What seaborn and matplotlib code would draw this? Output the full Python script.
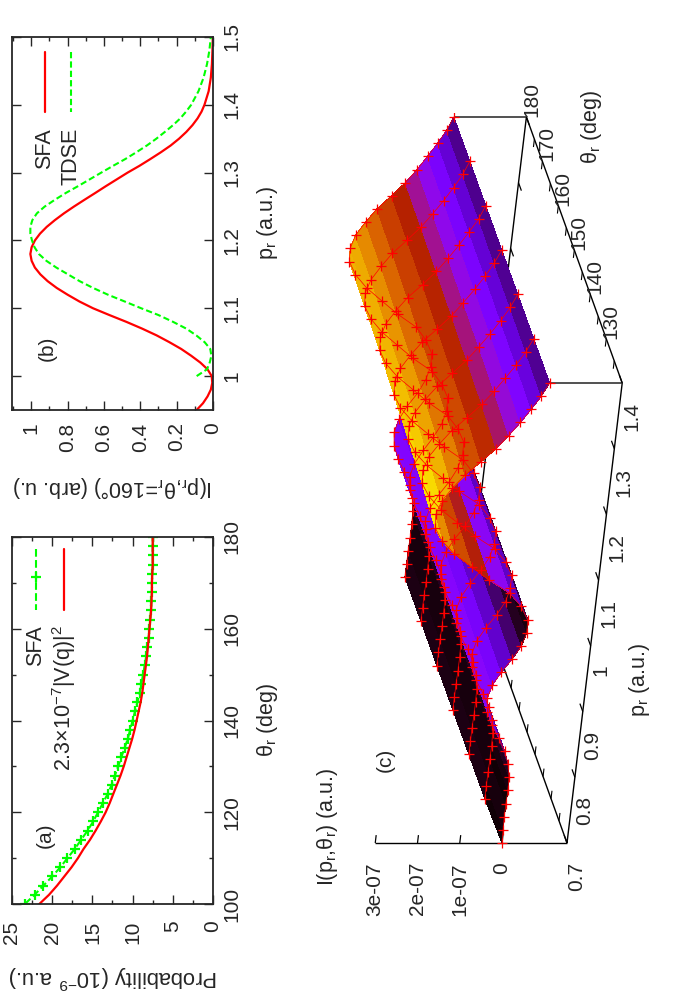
import numpy as np
import seaborn as sns
import matplotlib
matplotlib.use("Agg")
import matplotlib.pyplot as plt
from matplotlib.ticker import MultipleLocator, FixedLocator
from mpl_toolkits.mplot3d import proj3d

sns.set_style("ticks")
plt.rcParams['font.family'] = ['Liberation Sans', 'DejaVu Sans']
plt.rcParams['mathtext.default'] = 'regular'
plt.rcParams['axes.linewidth'] = 1.3

RED = '#ff0000'
GREEN = '#00ff00'

# panel (a)
theta_a = [100, 102, 104, 106, 108, 110, 112, 114, 116, 118, 120, 122, 124, 126, 128, 130, 132, 134, 136, 138, 140,
           142, 144, 146, 148, 150, 152, 154, 156, 158, 160, 162, 164, 166, 168, 170, 172, 174, 176, 178, 180]
sfa_a = [23.4, 22.2, 21.1, 20.0, 19.0, 18.1, 17.2, 16.4, 15.6, 14.9, 14.3, 13.7, 13.1, 12.6, 12.2, 11.8, 11.4, 11.0,
         10.6, 10.3, 10.0, 9.7, 9.4, 9.1, 8.9, 8.7, 8.5, 8.3, 8.15, 8.0, 7.9, 7.8, 7.7, 7.65, 7.6, 7.6, 7.55, 7.5,
         7.5, 7.5, 7.5]
vq_a = [21.6, 20.4, 19.4, 18.5, 17.6, 16.8, 16.1, 15.3, 14.6, 13.95, 13.35, 12.85, 12.4, 11.95, 11.5, 11.1, 10.75,
        10.4, 10.05, 9.75, 9.5, 9.25, 9.0, 8.8, 8.65, 8.5, 8.35, 8.2, 8.1, 8.0, 7.9, 7.8, 7.7, 7.65, 7.6, 7.6, 7.55,
        7.5, 7.5, 7.5, 7.5]

# panel (b)
p_sfa = [0.95, 0.96, 0.97, 0.98, 0.99, 1.00, 1.01, 1.02, 1.03, 1.04, 1.05, 1.06, 1.07, 1.08, 1.09, 1.10, 1.11, 1.12,
         1.13, 1.14, 1.15, 1.16, 1.17, 1.18, 1.19, 1.20, 1.21, 1.22, 1.23, 1.24, 1.25, 1.26, 1.27, 1.28, 1.29, 1.30,
         1.31, 1.32, 1.33, 1.34, 1.35, 1.36, 1.37, 1.38, 1.39, 1.40, 1.42, 1.44, 1.46, 1.48, 1.50]
sfa_b = [0.09, 0.055, 0.03, 0.012, 0.004, 0.007, 0.03, 0.07, 0.12, 0.175, 0.24, 0.31, 0.39, 0.477, 0.57, 0.66,
         0.735, 0.80, 0.86, 0.91, 0.95, 0.98, 0.998, 1.005, 0.998, 0.98, 0.952, 0.915, 0.87, 0.82, 0.765, 0.707,
         0.648, 0.59, 0.53, 0.47, 0.405, 0.345, 0.287, 0.233, 0.187, 0.147, 0.113, 0.085, 0.063, 0.047, 0.024, 0.012,
         0.006, 0.003, 0.001]
p_tdse = [1.00, 1.01, 1.02, 1.03, 1.04, 1.05, 1.06, 1.07, 1.08, 1.09, 1.10, 1.11, 1.12, 1.13, 1.14, 1.15, 1.16, 1.17,
          1.18, 1.19, 1.20, 1.21, 1.22, 1.23, 1.24, 1.25, 1.26, 1.27, 1.28, 1.29, 1.30, 1.31, 1.32, 1.33, 1.34, 1.35,
          1.36, 1.37, 1.38, 1.39, 1.40, 1.42, 1.44, 1.46, 1.48, 1.50]
tdse_b = [0.09, 0.033, 0.018, 0.009, 0.015, 0.046, 0.092, 0.147, 0.22, 0.30, 0.395, 0.486, 0.578, 0.66, 0.734, 0.798,
          0.862, 0.917, 0.958, 0.982, 0.996, 1.005, 1.005, 0.994, 0.969, 0.926, 0.87, 0.81, 0.743, 0.679, 0.615, 0.55,
          0.483, 0.422, 0.364, 0.312, 0.265, 0.22, 0.18, 0.148, 0.12, 0.08, 0.052, 0.033, 0.02, 0.012]

# panel (c), I in units of 1e-7
p_c = [0.70, 0.72, 0.74, 0.76, 0.78, 0.80, 0.82, 0.84, 0.86, 0.88, 0.90, 0.92, 0.94, 0.96, 0.98, 1.00, 1.02, 1.04,
       1.06, 1.08, 1.10, 1.12, 1.14, 1.16, 1.18, 1.20, 1.22, 1.24, 1.26, 1.28, 1.30, 1.32, 1.34, 1.36, 1.38, 1.40]
theta_c = [120, 130, 140, 150, 160, 170, 180]
i_120 = [0.00, 0.01, 0.02, 0.02, 0.01, 0.02, 0.08, 0.20, 0.38, 0.58, 0.72, 0.76, 0.68, 0.50, 0.28, 0.10, 0.01, 0.03,
         0.22, 0.52, 1.05, 1.50, 1.95, 2.28, 2.48, 2.50, 2.40, 2.18, 1.92, 1.58, 1.26, 1.00, 0.76, 0.54, 0.34, 0.18]
i_130 = [0.03, 0.03, 0.03, 0.02, 0.02, 0.03, 0.08, 0.20, 0.37, 0.57, 0.71, 0.75, 0.67, 0.49, 0.27, 0.10, 0.02, 0.03,
         0.21, 0.50, 1.02, 1.46, 1.89, 2.21, 2.41, 2.43, 2.33, 2.11, 1.86, 1.53, 1.22, 0.97, 0.74, 0.52, 0.33, 0.18]
i_140 = [0.03, 0.03, 0.03, 0.02, 0.02, 0.03, 0.08, 0.19, 0.36, 0.56, 0.70, 0.74, 0.66, 0.48, 0.27, 0.10, 0.02, 0.03,
         0.21, 0.49, 1.00, 1.43, 1.85, 2.17, 2.36, 2.38, 2.28, 2.07, 1.82, 1.50, 1.20, 0.95, 0.72, 0.51, 0.32, 0.18]
i_150 = [0.03, 0.03, 0.03, 0.02, 0.02, 0.03, 0.08, 0.19, 0.36, 0.55, 0.69, 0.73, 0.65, 0.48, 0.26, 0.10, 0.02, 0.03,
         0.21, 0.49, 0.98, 1.40, 1.82, 2.13, 2.32, 2.34, 2.24, 2.04, 1.80, 1.48, 1.18, 0.94, 0.71, 0.50, 0.32, 0.18]
i_160 = [0.03, 0.03, 0.03, 0.02, 0.02, 0.03, 0.08, 0.19, 0.35, 0.54, 0.68, 0.72, 0.64, 0.47, 0.26, 0.10, 0.02, 0.03,
         0.20, 0.48, 0.97, 1.38, 1.79, 2.10, 2.28, 2.30, 2.21, 2.01, 1.77, 1.45, 1.16, 0.92, 0.70, 0.50, 0.31, 0.18]
i_170 = [0.03, 0.03, 0.03, 0.02, 0.02, 0.03, 0.08, 0.18, 0.35, 0.54, 0.67, 0.71, 0.63, 0.46, 0.26, 0.10, 0.02, 0.03,
         0.20, 0.47, 0.96, 1.37, 1.77, 2.07, 2.26, 2.28, 2.18, 1.98, 1.75, 1.44, 1.15, 0.91, 0.69, 0.49, 0.31, 0.18]
i_180 = [0.03, 0.03, 0.03, 0.02, 0.02, 0.03, 0.08, 0.18, 0.34, 0.53, 0.66, 0.70, 0.62, 0.46, 0.25, 0.10, 0.02, 0.03,
         0.20, 0.47, 0.95, 1.36, 1.76, 2.06, 2.24, 2.26, 2.17, 1.97, 1.74, 1.43, 1.14, 0.90, 0.69, 0.49, 0.31, 0.18]
i_rows = [i_120, i_130, i_140, i_150, i_160, i_170, i_180]

p_ticks = [0.7, 0.8, 0.9, 1.0, 1.1, 1.2, 1.3, 1.4]
p_labels = ['0.7', '0.8', '0.9', '1', '1.1', '1.2', '1.3', '1.4']
theta_ticks = [130, 140, 150, 160, 170, 180]
z_ticks = [0, 1, 2, 3]
z_labels = ['0', '1e-07', '2e-07', '3e-07']
z_base = -1.537

fig = plt.figure(figsize=(7, 10), dpi=100)


def text(x, y, s, rot=90, size=15, **kw):
    kw.setdefault('ha', 'center')
    kw.setdefault('va', 'center')
    fig.text(x / 700, 1 - y / 1000, s, rotation=rot, fontsize=size, **kw)


def frame(left, top, right, bottom):
    return fig.add_axes([left / 700, 1 - bottom / 1000, (right - left) / 700, (bottom - top) / 1000])


def style(ax, pad):
    ax.yaxis.tick_right()
    ax.tick_params(which='both', direction='in', top=True, bottom=True, left=True, right=True, width=1.0)
    ax.tick_params(which='major', length=6.5, labelsize=15)
    ax.tick_params(which='minor', length=3.2)
    ax.tick_params(axis='x', which='major', labelrotation=90, pad=pad)
    ax.tick_params(axis='y', which='major', labelrotation=90, pad=7)
    for lab in ax.get_yticklabels():
        lab.set_va('center')
    ax.set_xlabel('')
    ax.set_ylabel('')


# panel (a): value runs to the left, angle runs upwards
ax_a = frame(12, 537, 213, 904)
sns.lineplot(x=sfa_a, y=theta_a, orient='y', ax=ax_a, color=GREEN, marker='+', markersize=7.5, markeredgewidth=1.6,
             markeredgecolor=GREEN, linewidth=1.5, linestyle='--', errorbar=None)
sns.lineplot(x=vq_a, y=theta_a, orient='y', ax=ax_a, color=RED, linewidth=1.6, errorbar=None)
ax_a.set_xlim(25, 0)
ax_a.set_ylim(100, 180)
ax_a.xaxis.set_major_locator(MultipleLocator(5))
ax_a.xaxis.set_minor_locator(MultipleLocator(2.5))
ax_a.yaxis.set_major_locator(MultipleLocator(20))
ax_a.yaxis.set_minor_locator(MultipleLocator(10))
style(ax_a, 12)
# legend keys
ax_a.plot([0.12, 0.12], [0.966, 0.80], color=GREEN, lw=1.5, ls='--', transform=ax_a.transAxes)
ax_a.plot([0.12], [0.89], color=GREEN, marker='+', ms=7.5, mew=1.6, transform=ax_a.transAxes)
ax_a.plot([0.26, 0.26], [0.966, 0.80], color=RED, lw=1.6, transform=ax_a.transAxes)
text(36, 625, 'SFA', va='top', size=15.5)
text(64, 625, '2.3×10$^{-7}$|V(q)|$^2$', va='top', size=15.5)
text(45, 835, '(a)')
text(113, 977, 'Probability (10$^{-9}$ a.u.)', rot=180, size=15.8)
text(268, 720, 'θ$_r$ (deg)', size=15.5)

# panel (b)
ax_b = frame(12, 37, 213, 410)
sns.lineplot(x=sfa_b, y=p_sfa, orient='y', ax=ax_b, color=RED, linewidth=1.6, errorbar=None)
sns.lineplot(x=tdse_b, y=p_tdse, orient='y', ax=ax_b, color=GREEN, linewidth=1.5, errorbar=None)
ax_b.lines[-1].set_dashes((3, 1.5))
ax_b.set_xlim(1.106, 0)
ax_b.set_ylim(0.95, 1.5)
ax_b.xaxis.set_major_locator(MultipleLocator(0.2))
ax_b.xaxis.set_minor_locator(MultipleLocator(0.1))
ax_b.yaxis.set_major_locator(FixedLocator([1.0, 1.1, 1.2, 1.3, 1.4, 1.5]))
ax_b.xaxis.set_major_formatter(lambda v, pos: f'{v:g}')
ax_b.yaxis.set_major_formatter(lambda v, pos: f'{v:g}')
style(ax_b, 9)
ax_b.plot([0.164, 0.164], [0.96, 0.80], color=RED, lw=1.6, transform=ax_b.transAxes)
key, = ax_b.plot([0.294, 0.294], [0.96, 0.80], color=GREEN, lw=1.5, transform=ax_b.transAxes)
key.set_dashes((3, 1.5))
text(45, 128, 'SFA', va='top', size=15.5)
text(71, 128, 'TDSE', va='top', size=15.5)
text(47, 348, '(b)')
text(113, 487, 'I(p$_r$,θ$_r$=160°) (arb. u.)', rot=180, size=15.5)
text(268, 223, 'p$_r$ (a.u.)', size=15.5)

# panel (c)
ax_c = fig.add_axes([0.3, 0.1, 0.5, 0.35], projection='3d', computed_zorder=False)
ax_c.set_axis_off()
ax_c.patch.set_alpha(0)
ax_c.view_init(elev=12, azim=-60, roll=90)
ax_c.set_proj_type('ortho')
ax_c.set_box_aspect((531, 532, 196))
ax_c.set_xlim(0.7, 1.4, view_margin=0)
ax_c.set_ylim(120, 180, view_margin=0)
ax_c.set_zlim(z_base, 3, view_margin=0)

P, T = np.meshgrid(p_c, theta_c)
Z = np.array(i_rows)


def to_px(p, t, z):
    x, y, _ = proj3d.proj_transform(p, t, z, ax_c.get_proj())
    x, y = ax_c.transData.transform((x, y))
    return x, 1000 - y


# put the box where corners A=(567,843) and C=(526,117) land
fig.canvas.draw()
a0, c0 = np.array(to_px(0.7, 120, z_base)), np.array(to_px(1.4, 180, z_base))
pos = ax_c.get_position()
k = np.hypot(41, 726) / np.hypot(*(a0 - c0))
side = pos.width * 700 * k
ax_c.set_position([0.3, 0.1, side / 700, side / 1000])
fig.canvas.draw()
a0 = np.array(to_px(0.7, 120, z_base))
pos = ax_c.get_position()
ax_c.set_position([pos.x0 + (567 - a0[0]) / 700, pos.y0 - (843 - a0[1]) / 1000, pos.width, pos.height])
fig.canvas.draw()


def edge(ps, ts, zs, lw=1.0, col='black', zorder=1):
    ax_c.plot(ps, ts, zs, color=col, lw=lw, zorder=zorder, solid_capstyle='butt')


edge([0.7, 1.4, 1.4, 0.7, 0.7], [120, 120, 180, 180, 120], [z_base] * 5)
edge([0.7, 0.7], [120, 120], [z_base, 3])
edge([1.4, 1.4], [120, 120], [z_base, i_120[-1]], lw=1.2, col='#333333')
edge([1.4, 1.4], [180, 180], [z_base, i_180[-1]], lw=1.2, col='#333333')

for v, lab in zip(p_ticks, p_labels):
    edge([v, v], [120, 121.8], [z_base, z_base], lw=0.9)
    edge([v, v], [180, 178.2], [z_base, z_base], lw=0.9)
    x, y = to_px(v, 120, z_base)
    text(x + 10, y + 19, lab, va='top')
for v in np.arange(125, 180, 5):
    edge([1.4, 1.388], [v, v], [z_base, z_base], lw=0.8)
    edge([0.7, 0.712], [v, v], [z_base, z_base], lw=0.8)
for v in theta_ticks:
    x, y = to_px(1.4, v, z_base)
    text(x + 5, y, str(v), va='bottom')
for v, lab in zip(z_ticks, z_labels):
    edge([0.7, 0.712], [120, 120], [v, v], lw=0.9)
    x, y = to_px(0.7, 120, v)
    text(x, 862, lab, va='top')

ax_c.plot_surface(P, T, Z, rstride=1, cstride=1, cmap='gnuplot', vmin=0, vmax=2.55, shade=False, linewidth=0,
                  antialiased=False, zorder=2)
for t_val, row in zip(theta_c, i_rows):
    ax_c.plot(p_c, [t_val] * len(p_c), row, color=RED, lw=0.5, marker='+', ms=7, mew=0.9, zorder=3)

text(328, 827, 'I(p$_r$,θ$_r$) (a.u.)', size=15.5)
text(385, 760, '(c)')
text(640, 680, 'p$_r$ (a.u.)', size=15.5)
text(591, 127, 'θ$_r$ (deg)', size=15.5)

fig.savefig('out.png', dpi=100)
